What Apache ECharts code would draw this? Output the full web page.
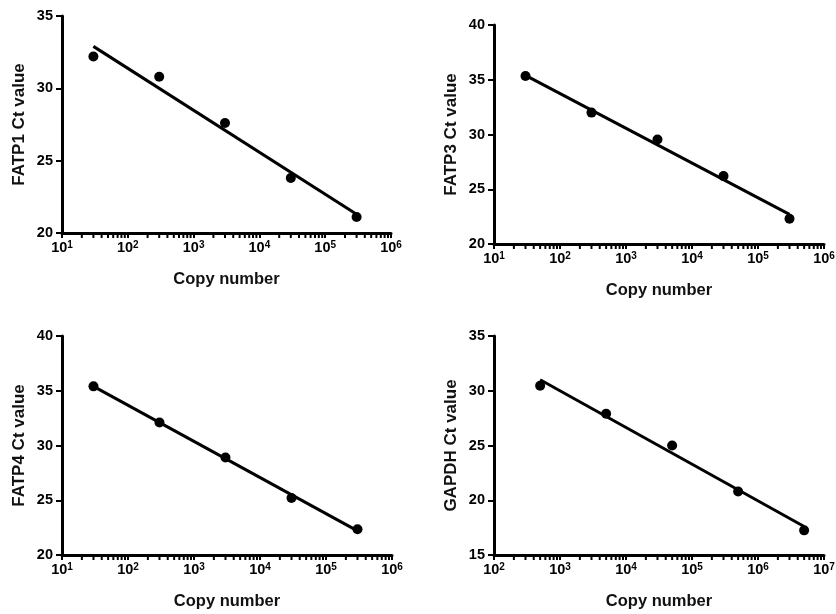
<!DOCTYPE html>
<html>
<head>
<meta charset="utf-8">
<script src="https://cdn.jsdelivr.net/npm/echarts@6/dist/echarts.min.js"></script>
<style>
  html, body { margin: 0; padding: 0; background: #fff; }
  #chart { width: 836px; height: 614px; }
</style>
</head>
<body>
<div id="chart"></div>
<script>
// values
const copyFATP = [30, 300, 3000, 30000, 300000];
const copyGAPDH = [500, 5000, 50000, 500000, 5000000];
const ctFATP1 = [32.2, 30.8, 27.6, 23.8, 21.1];
const ctFATP3 = [35.35, 32.0, 29.55, 26.2, 22.3];
const ctFATP4 = [35.4, 32.1, 28.9, 25.2, 22.35];
const ctGAPDH = [30.45, 27.9, 25.0, 20.8, 17.25];
// fitted line, value at the first and at the last copy number
const fitFATP1 = [32.9, 21.3];
const fitFATP3 = [35.4, 22.7];
const fitFATP4 = [35.4, 22.2];
const fitGAPDH = [31.0, 17.6];

const yNames = ['FATP1 Ct value', 'FATP3 Ct value', 'FATP4 Ct value', 'GAPDH Ct value'];
const xName = 'Copy number';
const xRanges = [[10, 1e6], [10, 1e6], [10, 1e6], [100, 1e7]];
const yRanges = [[20, 35], [20, 40], [20, 40], [15, 35]];

const copies = [copyFATP, copyFATP, copyFATP, copyGAPDH];
const cts = [ctFATP1, ctFATP3, ctFATP4, ctGAPDH];
const fits = [fitFATP1, fitFATP3, fitFATP4, fitGAPDH];

const grids = [
  { left: 62, top: 16, width: 329, height: 217 },
  { left: 494, top: 25, width: 330, height: 219 },
  { left: 62, top: 336, width: 330, height: 219 },
  { left: 494, top: 336, width: 330, height: 219 },
];

const txt = '#111';
const font = "'Liberation Sans', Arial, sans-serif";

// 2..9 x 10^d between the decades
function minorTicks(range) {
  const out = [];
  const d0 = Math.round(Math.log10(range[0]));
  const d1 = Math.round(Math.log10(range[1]));
  for (let d = d0; d < d1; d++) {
    for (let k = 2; k <= 9; k++) out.push(k * Math.pow(10, d));
  }
  return out;
}

let mycharts = echarts.init(document.getElementById('chart'));

const xAxis = [], yAxis = [], series = [];
grids.forEach((g, i) => {
  g.outerBoundsMode = 'none';
  g.containLabel = false;
  xAxis.push({
    type: 'log',
    logBase: 10,
    gridIndex: i,
    min: xRanges[i][0],
    max: xRanges[i][1],
    name: xName,
    nameLocation: 'middle',
    nameGap: 38,
    nameTextStyle: { color: txt, fontSize: 16.5, fontWeight: 'bold', fontFamily: font },
    axisLine: { show: true, onZero: false, lineStyle: { color: '#000', width: 3 } },
    axisTick: { show: true, inside: false, length: 5, lineStyle: { color: '#000', width: 2 } },
    splitLine: { show: false },
    axisLabel: {
      margin: 7,
      formatter: v => '{b|10}{s|' + Math.round(Math.log10(v)) + '}',
      rich: {
        b: { fontSize: 14.5, fontWeight: 'bold', color: '#000', fontFamily: font, lineHeight: 16 },
        s: { fontSize: 10, fontWeight: 'bold', color: '#000', fontFamily: font, lineHeight: 10, verticalAlign: 'top' },
      },
    },
  });
  yAxis.push({
    type: 'value',
    gridIndex: i,
    min: yRanges[i][0],
    max: yRanges[i][1],
    interval: 5,
    name: yNames[i],
    nameLocation: 'middle',
    nameGap: 34,
    nameTextStyle: { color: txt, fontSize: 17, fontWeight: 'bold', fontFamily: font },
    axisLine: { show: true, onZero: false, lineStyle: { color: '#000', width: 3 } },
    axisTick: { show: true, inside: false, length: 6, lineStyle: { color: '#000', width: 2 } },
    splitLine: { show: false },
    axisLabel: { margin: 9, color: '#000', fontSize: 14.5, fontWeight: 'bold', fontFamily: font },
  });
  const c = copies[i];
  series.push({
    type: 'line',
    xAxisIndex: i,
    yAxisIndex: i,
    data: [[c[0], fits[i][0]], [c[c.length - 1], fits[i][1]]],
    showSymbol: false,
    symbol: 'none',
    lineStyle: { color: '#000', width: 3 },
    z: 3,
  });
  series.push({
    type: 'scatter',
    xAxisIndex: i,
    yAxisIndex: i,
    data: c.map((x, j) => [x, cts[i][j]]),
    symbolSize: 10,
    itemStyle: { color: '#000', opacity: 1 },
    z: 4,
  });
  const yMin = yRanges[i][0];
  series.push({
    type: 'custom',
    xAxisIndex: i,
    yAxisIndex: i,
    clip: false,
    silent: true,
    data: minorTicks(xRanges[i]).map(v => [v, yMin]),
    renderItem: (params, api) => {
      const p = api.coord([api.value(0), api.value(1)]);
      return {
        type: 'line',
        shape: { x1: p[0], y1: p[1], x2: p[0], y2: p[1] + 5 },
        style: { stroke: '#000', lineWidth: 2 },
      };
    },
    z: 2,
  });
});

mycharts.setOption({
  animation: false,
  grid: grids,
  xAxis: xAxis,
  yAxis: yAxis,
  series: series,
});
</script>
</body>
</html>
